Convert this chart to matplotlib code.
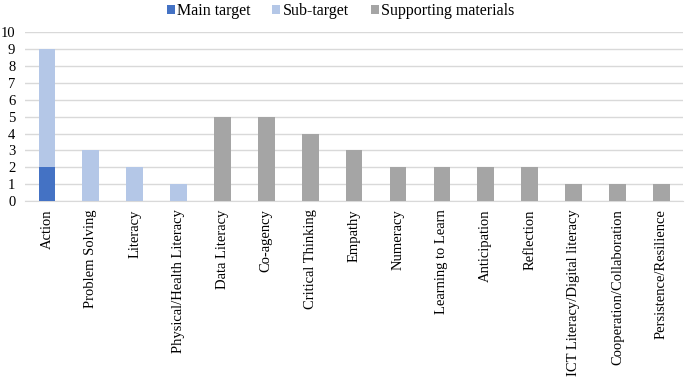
import matplotlib
matplotlib.use("Agg")
import matplotlib.pyplot as plt
import numpy as np

categories = ["Action", "Problem Solving", "Literacy", "Physical/Health Literacy",
              "Data Literacy", "Co-agency", "Critical Thinking", "Empathy", "Numeracy",
              "Learning to Learn", "Anticipation", "Reflection",
              "ICT Literacy/Digital literacy", "Cooperation/Collaboration",
              "Persistence/Resilience"]
main_target = [2, 0, 0, 0, 0, 0, 0, 0, 0, 0, 0, 0, 0, 0, 0]
sub_target = [7, 3, 2, 1, 0, 0, 0, 0, 0, 0, 0, 0, 0, 0, 0]
supporting = [0, 0, 0, 0, 5, 5, 4, 3, 2, 2, 2, 2, 1, 1, 1]
yticks = list(range(0, 11))

plt.rcParams['font.family'] = ['Liberation Serif', 'DejaVu Serif']
fig = plt.figure(figsize=(6.85, 3.78), dpi=100)
ax = fig.add_axes([0.0365, 0.468, 0.961, 0.447])

x = np.arange(len(categories))
w = 0.38
main = np.array(main_target)
sub = np.array(sub_target)
sup = np.array(supporting)
ax.bar(x, main, w, color="#4472C4", label="Main target", zorder=3)
ax.bar(x, sub, w, bottom=main, color="#B4C7E7", label="Sub-target", zorder=3)
ax.bar(x, sup, w, bottom=main + sub, color="#A5A5A5", label="Supporting materials", zorder=3)

ax.set_xlim(-0.5, len(categories) - 0.5)
ax.set_ylim(0, 10)
ax.set_yticks(yticks)
ax.set_yticklabels([str(t) for t in yticks], fontsize=10.5)
ax.set_xticks(x)
ax.set_xticklabels(categories, rotation=90, fontsize=10.5)
ax.tick_params(axis='x', length=0, pad=6)
ax.tick_params(axis='y', length=0, pad=7)
ax.yaxis.grid(True, color="#D9D9D9", linewidth=1, zorder=0)
for s in ["top", "right", "left"]:
    ax.spines[s].set_visible(False)
ax.spines["bottom"].set_color("#D9D9D9")
ax.spines["bottom"].set_zorder(1)

leg = fig.legend(loc="upper center", bbox_to_anchor=(0.497, 1.03), ncol=3, frameon=False,
                 fontsize=11.5, handlelength=0.5, handleheight=0.5, handletextpad=0.12,
                 columnspacing=1.4)
fig.savefig("out.png", dpi=100)
